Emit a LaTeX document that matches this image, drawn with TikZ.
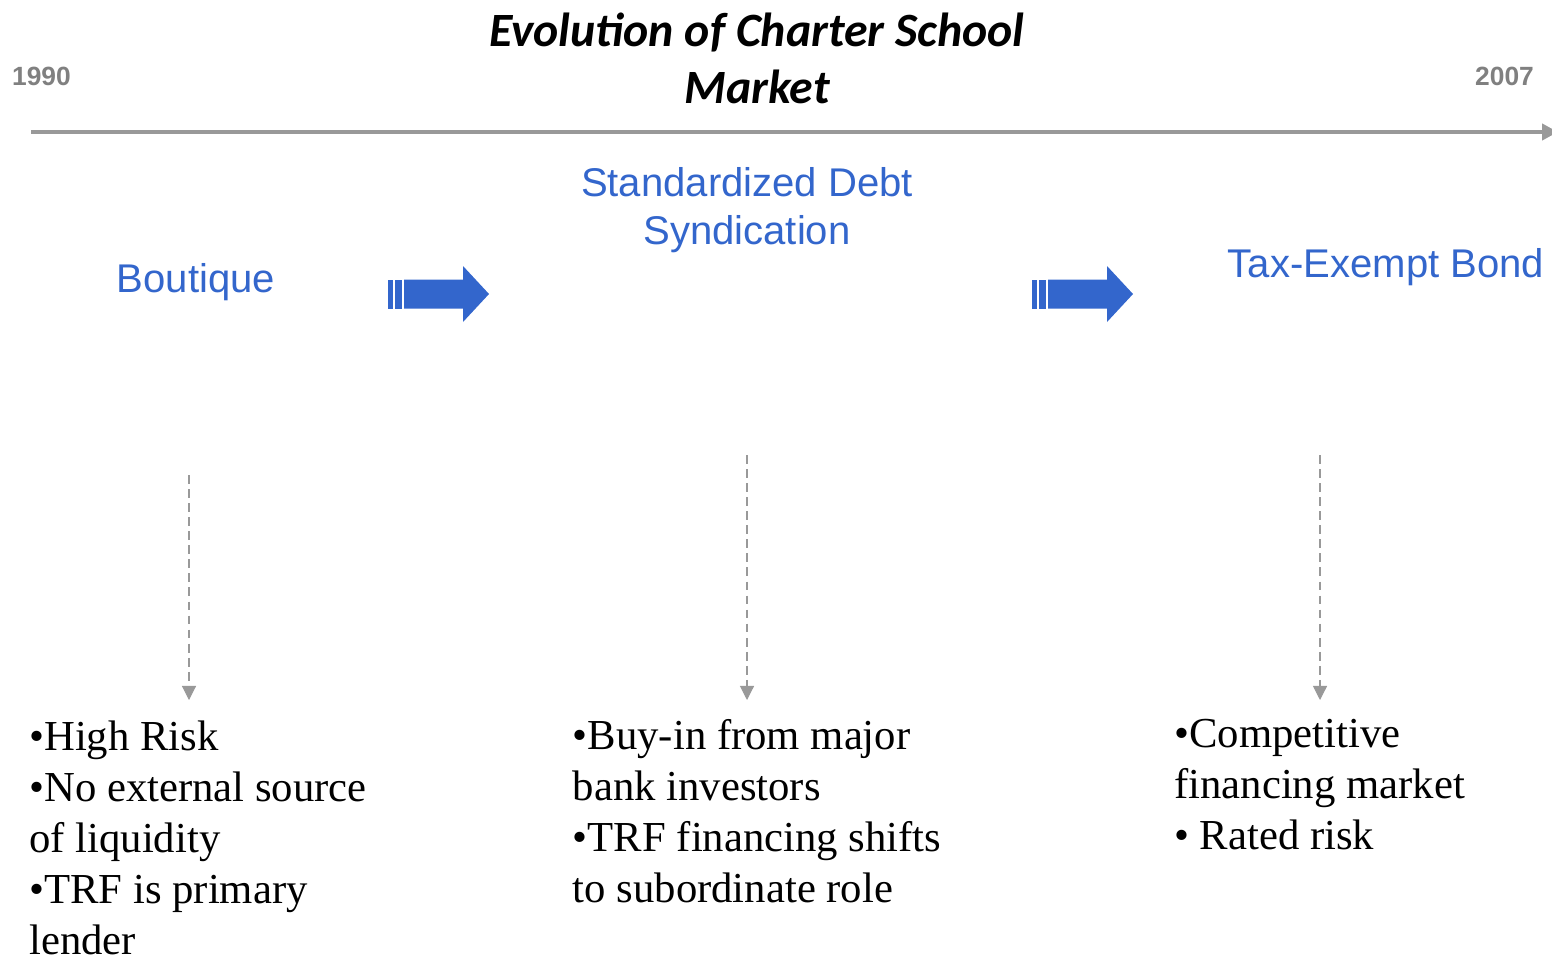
\documentclass[tikz,border=0pt]{standalone}
\usepackage{fontspec}
\usepackage{tikz}
\usetikzlibrary{arrows.meta}
\setmainfont{Liberation Serif}
\newfontfamily\labelfont{Liberation Sans}
\newfontfamily\titlefont{Carlito}
\definecolor{stageblue}{HTML}{3366CC}
\definecolor{yeargray}{HTML}{808080}
\definecolor{linegray}{HTML}{999999}

% block arrow between two stages, #1 = left end, #2 = axis height
\newcommand{\stagearrow}[2]{%
  \fill[stageblue] (#1,#2-0.29) rectangle ++(0.10,0.58);
  \fill[stageblue] (#1+0.14,#2-0.29) rectangle ++(0.14,0.58);
  \fill[stageblue] (#1+0.32,#2-0.29) -- ++(1.18,0) -- ++(0,-0.27)
    -- (#1+2.02,#2) -- (#1+1.50,#2+0.56) -- ++(0,-0.27) -- (#1+0.32,#2+0.29) -- cycle;
}

\begin{document}
\begin{tikzpicture}[
    every node/.style={inner sep=0pt},
    stage/.style={font=\labelfont\fontsize{22.8}{27.5}\selectfont, color=stageblue, align=center},
    year/.style={font=\labelfont\bfseries\fontsize{15}{17}\selectfont, color=yeargray},
    facts/.style={font=\fontsize{24.3}{29}\selectfont, align=left, anchor=north west},
    timeline/.style={draw=linegray, line width=2.4pt, -{Triangle[length=9pt,width=9pt]}},
    drop/.style={draw=linegray, line width=0.6pt, dash pattern=on 5pt off 3pt, -{Triangle[length=8pt,width=8pt]}}
  ]
  \useasboundingbox (0,0) rectangle (31.04,-19.22);

  % title and time axis
  \node[font=\titlefont\bfseries\itshape\fontsize{27.2}{32.4}\selectfont, align=center] (title) at (15.14,-1.16) {Evolution of Charter School\\Market};
  \node[year] (start) at (0.83,-1.52) {1990};
  \node[year] (end) at (30.09,-1.52) {2007};
  \coordinate (axisL) at (0.62,-2.64);
  \coordinate (axisR) at (31.16,-2.64);
  \draw[timeline] (axisL) -- (axisR);

  % stages
  \node[stage] (boutique) at (3.92,-5.64) {Boutique};
  \node[stage] (debt) at (14.94,-4.20) {Standardized Debt\\Syndication};
  \node[stage] (bond) at (27.72,-5.34) {Tax-Exempt Bond};

  \stagearrow{7.76}{-5.88}
  \stagearrow{20.64}{-5.88}

  % drops to the descriptions
  \coordinate (d1top) at (3.78,-9.50);
  \coordinate (d1bot) at (3.78,-14.00);
  \coordinate (d2top) at (14.94,-9.10);
  \coordinate (d2bot) at (14.94,-14.00);
  \coordinate (d3top) at (26.40,-9.10);
  \coordinate (d3bot) at (26.40,-14.00);
  \draw[drop] (d1top) -- (d1bot);
  \draw[drop] (d2top) -- (d2bot);
  \draw[drop] (d3top) -- (d3bot);

  % descriptions
  \node[facts] (risk) at (0.58,-14.42) {•High Risk\\•No external source\\of liquidity\\•TRF is primary\\lender};
  \node[facts] (buyin) at (11.45,-14.38) {•Buy-in from major\\bank investors\\•TRF financing shifts\\to subordinate role};
  \node[facts] (market) at (23.48,-14.38) {•Competitive\\financing market\\• Rated risk};
\end{tikzpicture}
\end{document}
